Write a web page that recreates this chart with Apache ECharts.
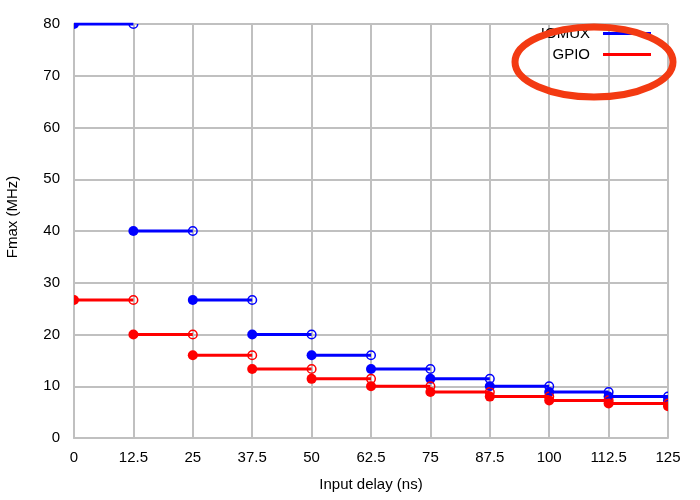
<!DOCTYPE html>
<html>
<head>
<meta charset="utf-8">
<script src="https://cdn.jsdelivr.net/npm/echarts@6/dist/echarts.min.js"></script>
<style>html,body{margin:0;padding:0;background:#fff;}#c{width:700px;height:500px;}</style>
</head>
<body>
<div id="c"></div>
<script>
// step boundaries (input delay, ns)
var stepStarts = [0, 12.5, 25, 37.5, 50, 62.5, 75, 87.5, 100, 112.5];
var stepEnds   = [12.5, 25, 37.5, 50, 62.5, 75, 87.5, 100, 112.5, 125];
// Fmax (MHz) for each step
var iomuxValues = [80, 40, 26.67, 20, 16, 13.33, 11.43, 10, 8.89, 8];
var gpioValues  = [26.67, 20, 16, 13.33, 11.43, 10, 8.89, 8, 7.27, 6.67];
// value of the next step starting at 125 ns
var iomuxNext = 7.27;
var gpioNext  = 6.15;
var xTicks = [0, 12.5, 25, 37.5, 50, 62.5, 75, 87.5, 100, 112.5, 125];

var BLUE = '#0000ff', RED = '#ff0000', GRID = '#c0c0c0';

function segs(vals) {
  var d = [];
  for (var i = 0; i < vals.length; i++) {
    d.push([stepStarts[i], vals[i]]);
    d.push([stepEnds[i], vals[i]]);
    d.push('-');
  }
  return d;
}
function starts(vals, next) {
  var d = vals.map(function (v, i) { return [stepStarts[i], v]; });
  d.push([stepEnds[stepEnds.length - 1], next]);
  return d;
}
function ends(vals) {
  return vals.map(function (v, i) { return [stepEnds[i], v]; });
}

var chart = echarts.init(document.getElementById('c'));
var font = 'Liberation Sans, Arial, sans-serif';
var narrow = 'Liberation Sans Narrow, Arial Narrow, Liberation Sans, sans-serif';

function marker(filled, color) {
  return function (params, api) {
    var p = api.coord([api.value(0), api.value(1)]);
    return {
      type: 'circle',
      shape: { cx: p[0], cy: p[1], r: filled ? 5 : 4.3 },
      style: filled ? { fill: color, stroke: null } : { fill: 'none', stroke: color, lineWidth: 1.5 }
    };
  };
}

function groupSeries(name, color, vals, next) {
  return [
    { name: name, type: 'line', data: segs(vals), showSymbol: false, connectNulls: false,
      lineStyle: { color: color, width: 3 }, itemStyle: { color: color }, clip: true, animation: false },
    { name: name + ' start', type: 'custom', data: starts(vals, next), renderItem: marker(true, color),
      encode: { x: 0, y: 1 }, clip: true, animation: false, silent: true },
    { name: name + ' end', type: 'custom', data: ends(vals), renderItem: marker(false, color),
      encode: { x: 0, y: 1 }, clip: true, animation: false, silent: true }
  ];
}

chart.setOption({
  backgroundColor: '#ffffff',
  animation: false,
  grid: { left: 74, right: 32, top: 24, bottom: 62, containLabel: false, outerBoundsMode: 'none' },
  legend: {
    data: ['IOMUX', 'GPIO'], orient: 'vertical', right: 44, top: 21, align: 'right',
    icon: 'rect', itemWidth: 48, itemHeight: 3, itemGap: 6,
    textStyle: { fontFamily: font, fontSize: 15, color: '#000', padding: [0, 8, 0, 0], lineHeight: 15 }
  },
  xAxis: {
    type: 'value', min: 0, max: 125, interval: 12.5,
    name: 'Input delay (ns)', nameLocation: 'middle', nameGap: 39,
    nameTextStyle: { fontFamily: narrow, fontSize: 15, color: '#000' },
    axisLine: { show: true, lineStyle: { color: GRID, width: 2 } },
    axisTick: { show: false },
    axisLabel: { fontFamily: narrow, fontSize: 15, color: '#000', margin: 12,
      formatter: function (v) { return String(v); } },
    splitLine: { show: true, lineStyle: { color: GRID, width: 2 } }
  },
  yAxis: {
    type: 'value', min: 0, max: 80, interval: 10,
    name: 'Fmax (MHz)', nameLocation: 'middle', nameGap: 54,
    nameTextStyle: { fontFamily: font, fontSize: 15, color: '#000', padding: [0, 0, 0, 28] },
    axisLine: { show: true, lineStyle: { color: GRID, width: 2 } },
    axisTick: { show: false },
    axisLabel: { fontFamily: font, fontSize: 15, color: '#000', margin: 14 },
    splitLine: { show: true, lineStyle: { color: GRID, width: 2 } }
  },
  series: [].concat(
    groupSeries('IOMUX', BLUE, iomuxValues, iomuxNext),
    groupSeries('GPIO', RED, gpioValues, gpioNext)
  ),
  graphic: [{
    type: 'ellipse', z: 100,
    shape: { cx: 594, cy: 62, rx: 79, ry: 35 },
    style: { fill: 'none', stroke: '#f33a12', lineWidth: 7 }
  }]
});
</script>
</body>
</html>
